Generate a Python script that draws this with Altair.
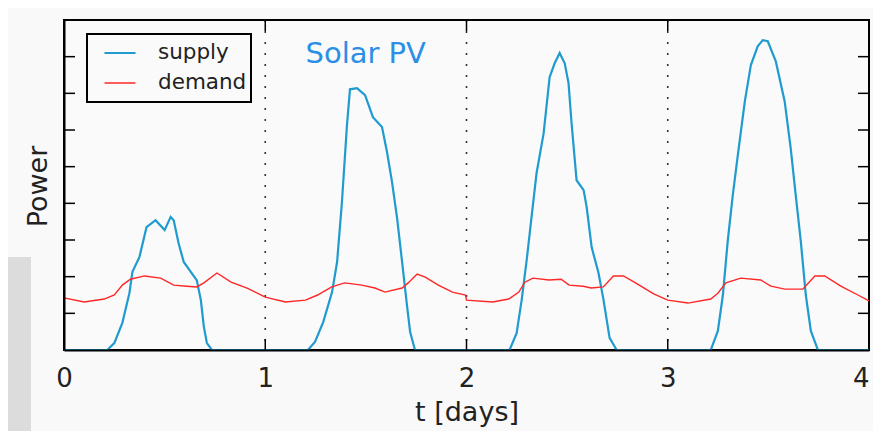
import altair as alt
import pandas as pd

# ---- data ----
supply_t = [0.0, 0.215, 0.25, 0.29, 0.325, 0.34, 0.375, 0.41, 0.455, 0.50, 0.53, 0.545, 0.57, 0.595,
            0.63, 0.66, 0.68, 0.695, 0.71, 0.735,
            1.212, 1.247, 1.288, 1.332, 1.357, 1.381, 1.406, 1.421, 1.456, 1.496, 1.535, 1.58, 1.605,
            1.63, 1.655, 1.68, 1.704, 1.72, 1.744,
            2.214, 2.249, 2.274, 2.299, 2.323, 2.348, 2.383, 2.413, 2.438, 2.463, 2.488, 2.507, 2.522,
            2.547, 2.582, 2.597, 2.622, 2.656, 2.681, 2.711, 2.746,
            3.214, 3.249, 3.274, 3.298, 3.323, 3.348, 3.383, 3.413, 3.447, 3.472, 3.497, 3.537, 3.581,
            3.611, 3.636, 3.661, 3.686, 3.711, 3.746, 4.0]
supply_p = [0, 0, 0.19, 0.74, 1.55, 2.13, 2.54, 3.35, 3.54, 3.27, 3.63, 3.54, 2.9, 2.4,
            2.13, 1.9, 1.36, 0.63, 0.19, 0,
            0, 0.22, 0.76, 1.58, 2.4, 4.03, 6.13, 7.11, 7.14, 6.95, 6.35, 6.08, 5.4,
            4.58, 3.6, 2.4, 1.23, 0.49, 0,
            0, 0.46, 1.36, 2.45, 3.62, 4.82, 5.9, 7.44, 7.82, 8.1, 7.82, 7.28, 6.19,
            4.63, 4.36, 3.9, 2.8, 2.1, 1.36, 0.33, 0,
            0, 0.52, 1.5, 2.97, 4.22, 5.31, 6.78, 7.77, 8.28, 8.45, 8.42, 7.87, 6.78,
            5.5, 4.22, 2.97, 1.5, 0.52, 0, 0]

demand_t = [0.0, 0.1, 0.2, 0.25, 0.29, 0.33, 0.4, 0.48, 0.545, 0.61, 0.66, 0.695, 0.76, 0.83, 0.91,
            1.0, 1.1, 1.2, 1.26, 1.33, 1.395, 1.48, 1.545, 1.595, 1.68, 1.71, 1.755, 1.795, 1.86, 1.93,
            1.995, 2.0, 2.13, 2.21, 2.26, 2.29, 2.33, 2.41, 2.47, 2.51, 2.58, 2.62, 2.68, 2.73, 2.78,
            2.84, 2.93, 3.0, 3.1, 3.214, 3.249, 3.289, 3.363, 3.462, 3.512, 3.582, 3.671, 3.731,
            3.78, 3.86, 3.945, 4.0]
demand_p = [1.42, 1.31, 1.39, 1.5, 1.77, 1.93, 2.02, 1.96, 1.77, 1.74, 1.72, 1.83, 2.1, 1.85, 1.69,
            1.44, 1.31, 1.36, 1.5, 1.72, 1.83, 1.77, 1.69, 1.58, 1.69, 1.83, 2.07, 1.99, 1.77, 1.58,
            1.5, 1.36, 1.31, 1.39, 1.58, 1.85, 1.96, 1.91, 1.93, 1.77, 1.74, 1.69, 1.72, 2.02, 2.02,
            1.83, 1.53, 1.36, 1.28, 1.39, 1.55, 1.83, 1.96, 1.91, 1.74, 1.66, 1.66, 2.02,
            2.02, 1.74, 1.5, 1.34]

series_names = ["supply", "demand"]
series_colors = ["#1f9bcf", "#ff2626"]
x_tick_labels = [0, 1, 2, 3, 4]
day_lines = [1, 2, 3]
y_ticks = [1, 2, 3, 4, 5, 6, 7, 8]
annotation = "Solar PV"

# ---- tables ----
lines_df = pd.concat([
    pd.DataFrame({"t": supply_t, "p": supply_p, "series": "supply", "ord": range(len(supply_t))}),
    pd.DataFrame({"t": demand_t, "p": demand_p, "series": "demand", "ord": range(len(demand_t))}),
])
days_df = pd.DataFrame({"t": day_lines})
yt_df = pd.DataFrame({"p": y_ticks})
note_df = pd.DataFrame({"t": [1.2], "p": [7.82], "label": [annotation]})
one_df = pd.DataFrame({"a": [0]})

FONT = "DejaVu Sans"
W, H = 805, 330

xscale = alt.Scale(domain=[0, 4], nice=False, zero=False)
yscale = alt.Scale(domain=[0, 9], nice=False)

xaxis = alt.Axis(values=x_tick_labels, format="d", ticks=False, grid=False, labelFontSize=26,
                 labelFont=FONT, labelColor="#222", labelPadding=15, labelFlush=False,
                 labelAlign={"condition": {"test": "datum.value >= 4", "value": "right"},
                             "value": "center"},
                 domain=True, domainColor="black", domainWidth=2, zindex=1,
                 title="t [days]", titleFont=FONT, titleFontSize=27, titleFontWeight="normal",
                 titleColor="#222", titleY=70, titleBaseline="alphabetic")
yaxis = alt.Axis(labels=False, ticks=False, grid=False, domain=True, domainColor="black",
                 domainWidth=2, zindex=1, title="Power", titleFont=FONT, titleFontSize=27,
                 titleFontWeight="normal", titleColor="#222", titleX=-18, titleY=166,
                 titleBaseline="alphabetic", titleAngle=270)

dotted = alt.Chart(days_df).mark_rule(color="#333", strokeWidth=1.6, strokeDash=[2, 9]).encode(
    x=alt.X("t:Q", scale=xscale, axis=xaxis),
)

lines = alt.Chart(lines_df).mark_line(interpolate="linear").encode(
    x=alt.X("t:Q", scale=xscale, axis=xaxis),
    y=alt.Y("p:Q", scale=yscale, axis=yaxis),
    order="ord:Q",
    color=alt.Color("series:N", scale=alt.Scale(domain=series_names, range=series_colors),
                    sort=series_names,
                    legend=alt.Legend(title=None, orient="none", legendX=23, legendY=14,
                                      symbolType="stroke", symbolSize=961, symbolStrokeWidth=2,
                                      labelFont=FONT, labelFontSize=21.5, labelColor="#222",
                                      labelOffset=21, padding=4, symbolOffset=12,
                                      clipHeight=30, rowPadding=0,
                                      labelExpr="datum.label + ' '",
                                      strokeColor="black", fillColor="#fafafa")),
    strokeWidth=alt.StrokeWidth("series:N", scale=alt.Scale(domain=series_names, range=[2.2, 1.4]),
                                legend=None),
)

bx_ticks = alt.Chart(days_df).mark_rule(color="black", strokeWidth=1.5).encode(
    x=alt.X("t:Q", scale=xscale), y=alt.value(H), y2=alt.value(H - 11))
tx_ticks = alt.Chart(days_df).mark_rule(color="black", strokeWidth=1.5).encode(
    x=alt.X("t:Q", scale=xscale), y=alt.value(0), y2=alt.value(11))
ly_ticks = alt.Chart(yt_df).mark_rule(color="black", strokeWidth=1.5).encode(
    y=alt.Y("p:Q", scale=yscale), x=alt.value(0), x2=alt.value(11))
ry_ticks = alt.Chart(yt_df).mark_rule(color="black", strokeWidth=1.5).encode(
    y=alt.Y("p:Q", scale=yscale), x=alt.value(W), x2=alt.value(W - 11))

note = alt.Chart(note_df).mark_text(font=FONT, fontSize=29, color="#2b8fe6", align="left",
                                    baseline="alphabetic").encode(
    x=alt.X("t:Q", scale=xscale), y=alt.Y("p:Q", scale=yscale), text="label:N")

side_box = alt.Chart(one_df).mark_rect(color="#dcdcdc").encode(
    x=alt.value(-56), x2=alt.value(-33), y=alt.value(237), y2=alt.value(411))

chart = alt.layer(side_box, dotted, lines, bx_ticks, tx_ticks, ly_ticks, ry_ticks, note).properties(
    width=W, height=H,
    padding={"left": 56, "top": 12, "right": 4, "bottom": 81},
    autosize=alt.AutoSizeParams(type="none"),
    background="#f9f9f9",
).configure_view(stroke="black", strokeWidth=2, fill="#fafafa"
).configure_legend(strokeWidth=2)

chart.save("out.html", embed_options={"renderer": "svg", "actions": False})
